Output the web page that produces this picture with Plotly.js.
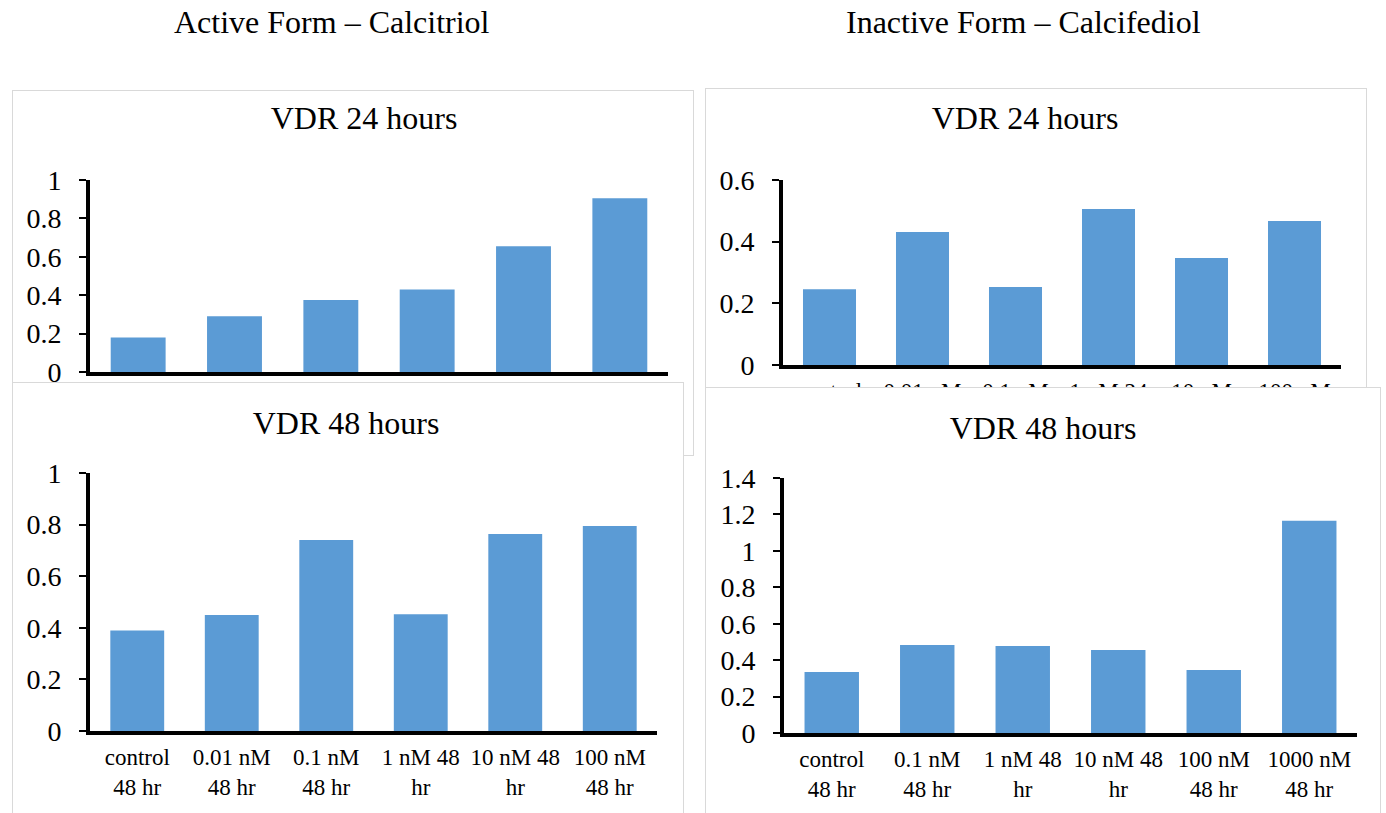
<!DOCTYPE html>
<html><head><meta charset="utf-8">
<script src="https://cdn.plot.ly/plotly-3.0.1.min.js"></script>
<style>
html,body{margin:0;padding:0;width:1386px;height:813px;overflow:hidden;background:#fff;}
.box{position:absolute;background:#fff;border:1px solid #d9d9d9;box-sizing:border-box;}
.box > div{position:absolute;left:0;top:0;}
</style></head><body>
<div id="bg" style="position:absolute;left:0;top:0;width:1386px;height:813px;"></div>
<div class="box" style="left:12px;top:90px;width:682px;height:366px;z-index:1"><div id="tl"></div></div>
<div class="box" style="left:705px;top:88px;width:662px;height:320px;z-index:1"><div id="tr"></div></div>
<div class="box" style="left:12px;top:382px;width:672px;height:440px;z-index:2"><div id="bl"></div></div>
<div class="box" style="left:705px;top:387px;width:676px;height:440px;z-index:2"><div id="br"></div></div>
<script>
// ---- data ----
const headingLeft = "Active Form – Calcitriol";
const headingRight = "Inactive Form – Calcifediol";

const titleTL = "VDR 24 hours";
const catsTL = ["control<br>24 hr", "0.01 nM<br>24 hr", "0.1 nM<br>24 hr", "1 nM 24<br>hr", "10 nM<br>24 hr", "100 nM<br>24 hr"];
const valsTL = [0.18, 0.29, 0.375, 0.43, 0.655, 0.905];

const titleTR = "VDR 24 hours";
const catsTR = ["control<br>24 hr", "0.01 nM<br>24 hr", "0.1 nM<br>24 hr", "1 nM 24<br>hr", "10 nM<br>24 hr", "100 nM<br>24 hr"];
const valsTR = [0.246, 0.431, 0.253, 0.506, 0.347, 0.467];

const titleBL = "VDR 48 hours";
const catsBL = ["control<br>48 hr", "0.01 nM<br>48 hr", "0.1 nM<br>48 hr", "1 nM 48<br>hr", "10 nM 48<br>hr", "100 nM<br>48 hr"];
const valsBL = [0.39, 0.45, 0.74, 0.453, 0.764, 0.795];

const titleBR = "VDR 48 hours";
const catsBR = ["control<br>48 hr", "0.1 nM<br>48 hr", "1 nM 48<br>hr", "10 nM 48<br>hr", "100 nM<br>48 hr", "1000 nM<br>48 hr"];
const valsBR = [0.335, 0.483, 0.478, 0.456, 0.346, 1.165];

// ---- style ----
const FONT = "Liberation Serif, Times New Roman, serif";
const BAR = "#5b9bd5";
const cfg = {staticPlot: true, displayModeBar: false};

Plotly.newPlot("bg", [], {
  width: 1386, height: 813, margin: {l:0,r:0,t:0,b:0},
  paper_bgcolor: "#fff", plot_bgcolor: "#fff",
  xaxis: {visible: false}, yaxis: {visible: false},
  annotations: [
    {text: headingLeft, xref: "paper", yref: "paper", x: 332/1386, y: 1 - 22/813, showarrow: false, xanchor: "center", yanchor: "middle", font: {family: FONT, size: 32, color: "#000"}},
    {text: headingRight, xref: "paper", yref: "paper", x: 1023/1386, y: 1 - 22/813, showarrow: false, xanchor: "center", yanchor: "middle", font: {family: FONT, size: 32, color: "#000"}}
  ]
}, cfg);

function chart(id, title, cats, vals, W, H, m, ymax, titleX, titleY, showX) {
  Plotly.newPlot(id, [{
    type: "bar", x: cats, y: vals, marker: {color: BAR}, hoverinfo: "none"
  }], {
    width: W, height: H, margin: m,
    paper_bgcolor: "#fff", plot_bgcolor: "#fff",
    bargap: 0.43, showlegend: false,
    title: {text: title, xref: "container", yref: "container", x: titleX, y: 1 - titleY/H, xanchor: "center", yanchor: "middle", font: {family: FONT, size: 32, color: "#000"}},
    xaxis: {type: "category", range: [-0.5, 5.5], showline: true, linewidth: 4, linecolor: "#000", ticks: "", showgrid: false, zeroline: false,
            showticklabels: showX, tickangle: 0, ticklabelstandoff: 2, tickfont: {family: FONT, size: 23, color: "#000"}},
    yaxis: {range: [0, ymax], dtick: 0.2, tick0: 0, showline: true, linewidth: 4, linecolor: "#000", ticks: "outside", ticklen: 7, tickwidth: 2, tickcolor: "#000",
            showgrid: false, zeroline: false, ticklabelstandoff: 12, tickfont: {family: FONT, size: 28, color: "#000"}}
  }, cfg);
}

chart("tl", titleTL, catsTL, valsTL, 680, 364, {l:77, r:25, t:89, b:83}, 1, 351/680, 27, false);
chart("tr", titleTR, catsTR, valsTR, 660, 318, {l:77, r:25, t:91, b:42}, 0.6, 319/660, 29, true);
chart("bl", titleBL, catsBL, valsBL, 670, 438, {l:77, r:26, t:90, b:90}, 1, 333/670, 40, true);
chart("br", titleBR, catsBR, valsBR, 674, 438, {l:78, r:23, t:90, b:93}, 1.4, 337/674, 40, true);
</script>
</body></html>
